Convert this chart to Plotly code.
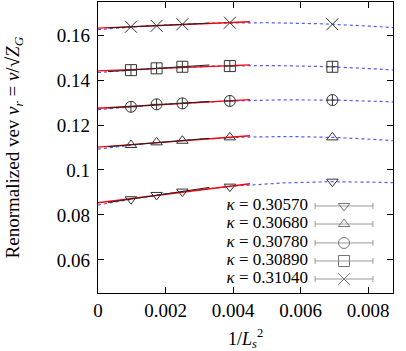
import numpy as np
import plotly.graph_objects as go

# lattice sizes and renormalized vev per kappa
L_SIZES = [32, 24, 20, 16, 12]
KAPPAS = ["0.30570", "0.30680", "0.30780", "0.30890", "0.31040"]
VEV_30570 = [0.0870, 0.0889, 0.0904, 0.0926, 0.0948]
VEV_30680 = [0.1111, 0.1123, 0.1130, 0.1145, 0.1145]
VEV_30780 = [0.1281, 0.1292, 0.1296, 0.1307, 0.1311]
VEV_30890 = [0.1444, 0.1452, 0.1459, 0.1462, 0.1459]
VEV_31040 = [0.1637, 0.1641, 0.1648, 0.1655, 0.1648]

SERIES = [VEV_30570, VEV_30680, VEV_30780, VEV_30890, VEV_31040]
SYMBOLS = ["triangle-down-open", "triangle-up-open", "circle-cross-open",
           "square-cross-open", "x-thin-open"]
LEGEND_SYMBOLS = ["triangle-down-open", "triangle-up-open", "circle-open",
                  "square-open", "x-thin-open"]
SIZES = [10, 10, 11, 11, 12]

FONT = "Liberation Serif"
x = 1.0 / np.array(L_SIZES, dtype=float) ** 2

fig = go.Figure()

x_quad = np.linspace(0, 0.0088, 100)
x_lin = np.linspace(0, 0.0045, 20)
x_lin3 = np.linspace(0.0003, 0.0033, 20)

for vals in SERIES:
    y = np.array(vals)
    quad = np.polyfit(x, y, 2)
    fig.add_trace(go.Scatter(x=x_quad, y=np.polyval(quad, x_quad), mode="lines",
                             line=dict(color="#5555ff", width=1.2, dash="dot"),
                             showlegend=False, hoverinfo="skip"))
    lin = np.polyfit(x[:4], y[:4], 1)
    fig.add_trace(go.Scatter(x=x_lin, y=np.polyval(lin, x_lin), mode="lines",
                             line=dict(color="#ff0000", width=1.4),
                             showlegend=False, hoverinfo="skip"))
    lin3 = np.polyfit(x[:3], y[:3], 1)
    fig.add_trace(go.Scatter(x=x_lin3, y=np.polyval(lin3, x_lin3), mode="lines",
                             line=dict(color="#222222", width=1),
                             showlegend=False, hoverinfo="skip"))

for vals, sym, size in zip(SERIES, SYMBOLS, SIZES):
    fig.add_trace(go.Scatter(x=x, y=vals, mode="markers",
                             marker=dict(symbol=sym, size=size, color="#333333",
                                         line=dict(width=1, color="#333333")),
                             showlegend=False))

# hand-drawn key in an overlay axis (gnuplot style, errorbar samples)
rows = [0.299, 0.237, 0.172, 0.110, 0.048]
for kappa, sym, size, row in zip(KAPPAS, LEGEND_SYMBOLS, SIZES, rows):
    fig.add_trace(go.Scatter(x=[0.834], y=[row], mode="markers", xaxis="x2", yaxis="y2",
                             marker=dict(symbol=sym, size=size, color="#777777",
                                         line=dict(width=1, color="#777777")),
                             error_x=dict(type="constant", value=0.098, width=3,
                                          color="#999999", thickness=1),
                             showlegend=False))
    fig.add_trace(go.Scatter(x=[0.712], y=[row], mode="text", xaxis="x2", yaxis="y2",
                             text=[f"<i>κ</i> = {kappa}"], textposition="middle left",
                             textfont=dict(family=FONT, size=17, color="black"),
                             showlegend=False))

axis_common = dict(showgrid=False, zeroline=False, showline=True, linecolor="black",
                   linewidth=1.3, mirror="ticks", ticks="inside", ticklen=6,
                   tickcolor="black", automargin=False,
                   tickfont=dict(family=FONT, size=19, color="black"))

fig.update_layout(
    width=406, height=351,
    margin=dict(l=98, r=13, t=2, b=58),
    plot_bgcolor="white", paper_bgcolor="white",
    xaxis=dict(range=[0, 0.00874], tickvals=[0, 0.002, 0.004, 0.006, 0.008],
               ticktext=["0", "0.002", "0.004", "0.006", "0.008"],
               ticklabelstandoff=0, **axis_common),
    yaxis=dict(range=[0.0453, 0.1747], tickvals=[0.06, 0.08, 0.1, 0.12, 0.14, 0.16],
               ticktext=["0.06", "0.08", "0.1", "0.12", "0.14", "0.16"],
               ticklabelstandoff=3, **axis_common),
    xaxis2=dict(range=[0, 1], overlaying="x", visible=False),
    yaxis2=dict(range=[0, 1], overlaying="y", visible=False),
    annotations=[
        dict(text="1/<i>L</i><sub><i>s</i></sub><sup>2</sup>",
             xref="paper", yref="paper", x=0.5, y=-0.155,
             xanchor="center", yanchor="middle", showarrow=False,
             font=dict(family=FONT, size=18, color="black")),
        dict(text="Renormalized vev <i>v<sub>r</sub></i> = <i>v</i>/√<i>Z<sub>G</sub></i>",
             xref="paper", yref="paper", x=-0.285, y=0.5, textangle=-90,
             xanchor="center", yanchor="middle", showarrow=False,
             font=dict(family=FONT, size=19, color="black")),
    ],
)

# drop the default page margin so the figure sits at the window corner
fig.write_html("out.html", config={"displayModeBar": False},
               post_script="document.body.style.margin='0';")
